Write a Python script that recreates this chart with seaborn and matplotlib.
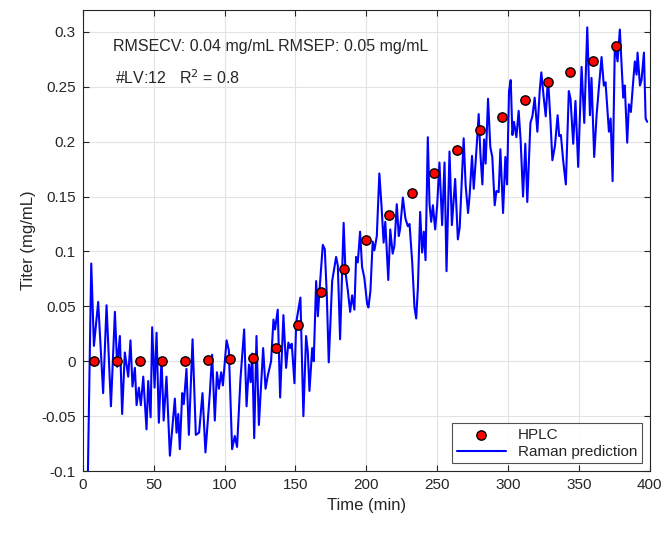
import numpy as np
import pandas as pd
import matplotlib
matplotlib.use("Agg")
from matplotlib import pyplot as plt
import seaborn as sns

# HPLC reference samples
hplc_time = [8, 24, 40, 56, 72, 88, 104, 120, 136, 152, 168, 184,
             200, 216, 232, 248, 264, 280, 296, 312, 328, 344, 360, 376]
hplc_titer = [0.0, 0.0, 0.0, 0.0, 0.0, 0.001, 0.002, 0.003, 0.0125, 0.033, 0.063, 0.084,
              0.110, 0.133, 0.153, 0.171, 0.192, 0.211, 0.222, 0.238, 0.254, 0.263, 0.273, 0.287]

# Raman prediction
raman_time = [
    3.5, 5.9, 7.8, 10.8, 14.3, 16.7, 19.8, 22.6, 24.2, 26.1, 27.7, 29.6, 32.0, 33.6,
    35.0, 36.7, 37.9, 39.5, 40.9, 42.6, 44.9, 46.1, 47.8, 48.9, 50.6, 52.0, 53.6, 55.5,
    57.0, 59.0, 61.4, 64.9, 66.1, 67.3, 68.4, 70.1, 71.2, 73.1, 74.8, 77.4, 79.7, 82.0,
    84.4, 86.5, 89.6, 91.2, 93.1, 94.6, 96.0, 97.6, 98.8, 101.4, 103.0, 105.3, 107.2,
    108.8, 111.2, 113.8, 115.5, 117.2, 118.4, 119.5, 120.9, 122.5, 124.2, 127.2, 128.9,
    130.5, 132.8, 134.5, 135.6, 137.5, 139.2, 141.5, 143.4, 145.0, 146.2, 147.4, 149.3,
    150.5, 153.5, 155.6, 157.5, 158.7, 159.9, 161.8, 162.9, 164.6, 165.8, 167.0, 169.3,
    170.7, 172.1, 173.5, 175.9, 178.7, 179.9, 181.5, 184.0, 185.3, 187.0, 188.6, 190.0,
    191.6, 192.8, 194.0, 195.6, 197.0, 198.6, 200.6, 201.5, 202.9, 204.5, 205.7, 207.4,
    209.2, 210.8, 212.2, 213.4, 215.5, 216.9, 218.6, 219.8, 221.5, 222.9, 223.8, 225.8,
    227.6, 229.3, 230.5, 232.4, 234.0, 235.2, 236.4, 238.0, 239.4, 240.6, 241.8, 243.4,
    244.6, 245.8, 247.0, 248.6, 250.0, 251.6, 253.5, 255.2, 256.6, 258.7, 260.4, 262.7,
    264.6, 265.9, 267.1, 268.7, 270.1, 271.8, 272.9, 274.6, 275.8, 276.9, 278.4, 279.3,
    280.5, 281.9, 283.1, 284.2, 285.9, 287.5, 288.9, 290.6, 291.8, 293.4, 294.6, 296.5,
    298.1, 299.3, 300.7, 301.9, 303.1, 304.2, 305.9, 307.5, 308.9, 310.6, 312.2, 313.6,
    315.8, 317.2, 318.8, 320.7, 322.4, 323.5, 325.2, 326.6, 328.2, 329.9, 331.3, 333.1,
    335.0, 336.1, 337.3, 338.9, 340.8, 342.9, 344.1, 346.0, 347.6, 349.5, 351.9, 353.8,
    355.9, 357.8, 358.9, 360.8, 362.5, 364.1, 366.0, 367.6, 368.8, 370.0, 371.2, 372.4,
    373.8, 375.4, 377.3, 378.9, 380.1, 381.3, 382.4, 384.1, 385.3, 386.7, 388.4, 389.5,
    390.7, 391.4, 393.1, 394.2, 395.9, 397.1, 398.2]
raman_titer = [
    -0.105, 0.089, 0.014, 0.054, -0.029, 0.051, -0.041, 0.045, -0.005, 0.023, -0.048, 0.008,
    -0.014, 0.019, -0.023, -0.006, -0.040, -0.024, -0.040, -0.014, -0.062, -0.018, -0.051,
    0.031, -0.024, 0.026, -0.056, 0.002, -0.054, -0.014, -0.086, -0.034, -0.065, -0.048,
    -0.080, -0.029, -0.039, -0.007, -0.067, 0.020, -0.067, -0.065, -0.029, -0.083, -0.029,
    0.006, -0.054, -0.010, -0.025, -0.010, -0.022, 0.019, 0.010, -0.080, -0.068, -0.078,
    -0.016, 0.029, -0.041, -0.003, -0.019, 0.007, -0.070, 0.023, -0.058, 0.012, -0.025,
    -0.013, 0.000, 0.038, 0.029, 0.047, -0.033, 0.042, -0.006, 0.017, 0.012, 0.016, -0.020,
    0.035, 0.058, -0.050, 0.023, 0.009, -0.027, 0.012, 0.000, 0.073, 0.041, 0.065, 0.106,
    0.102, 0.061, -0.001, 0.073, 0.095, 0.087, 0.020, 0.126, 0.081, 0.064, 0.045, 0.060,
    0.047, 0.095, 0.090, 0.118, 0.086, 0.076, 0.052, 0.049, 0.064, 0.109, 0.101, 0.114,
    0.171, 0.140, 0.108, 0.127, 0.074, 0.120, 0.098, 0.105, 0.143, 0.114, 0.120, 0.149,
    0.130, 0.123, 0.125, 0.090, 0.049, 0.039, 0.067, 0.136, 0.099, 0.118, 0.092, 0.204,
    0.143, 0.127, 0.142, 0.120, 0.142, 0.181, 0.124, 0.181, 0.082, 0.191, 0.124, 0.166,
    0.111, 0.122, 0.157, 0.203, 0.160, 0.135, 0.151, 0.187, 0.157, 0.177, 0.206, 0.225,
    0.189, 0.161, 0.202, 0.180, 0.239, 0.195, 0.186, 0.142, 0.155, 0.154, 0.193, 0.135,
    0.186, 0.161, 0.246, 0.256, 0.206, 0.218, 0.204, 0.228, 0.201, 0.150, 0.198, 0.145,
    0.217, 0.223, 0.240, 0.209, 0.247, 0.263, 0.240, 0.223, 0.258, 0.220, 0.183, 0.196,
    0.224, 0.205, 0.206, 0.183, 0.161, 0.246, 0.239, 0.198, 0.237, 0.177, 0.268, 0.217,
    0.304, 0.224, 0.258, 0.186, 0.224, 0.249, 0.277, 0.251, 0.254, 0.231, 0.209, 0.221,
    0.164, 0.290, 0.273, 0.302, 0.271, 0.240, 0.251, 0.199, 0.234, 0.227, 0.256, 0.273,
    0.261, 0.281, 0.251, 0.256, 0.281, 0.221, 0.218]

x_ticks = [0, 50, 100, 150, 200, 250, 300, 350, 400]
y_ticks = [-0.1, -0.05, 0, 0.05, 0.1, 0.15, 0.2, 0.25, 0.3]
y_tick_labels = ["-0.1", "-0.05", "0", "0.05", "0.1", "0.15", "0.2", "0.25", "0.3"]

raman = pd.DataFrame({"Time": raman_time, "Titer": raman_titer})
hplc = pd.DataFrame({"Time": hplc_time, "Titer": hplc_titer})

sns.set_style("whitegrid")
plt.rcParams["font.family"] = ["Liberation Sans", "DejaVu Sans"]

fig = plt.figure(figsize=(6.63, 5.44), dpi=100)
ax = fig.add_axes([0.125, 0.134, 0.855, 0.848])

sns.lineplot(data=raman, x="Time", y="Titer", color="#0000ff", linewidth=1.5,
             estimator=None, sort=False, ax=ax, label="Raman prediction", zorder=2)
sns.scatterplot(data=hplc, x="Time", y="Titer", color="#ff0000", edgecolor="black",
                linewidth=1.0, s=45, ax=ax, label="HPLC", zorder=3)

ax.set_xlim(0, 400)
ax.set_ylim(-0.1, 0.32)
ax.set_xticks(x_ticks)
ax.set_yticks(y_ticks)
ax.set_yticklabels(y_tick_labels)
ax.grid(True, color="#e3e3e3", linewidth=0.8)
ax.tick_params(direction="in", length=4, width=0.8, colors="#262626", labelsize=11,
               top=True, right=True, bottom=True, left=True, pad=5)
for s in ax.spines.values():
    s.set_color("#262626")
    s.set_linewidth(0.8)

ax.set_xlabel("Time (min)", fontsize=12, color="#262626")
ax.set_ylabel("Titer (mg/mL)", fontsize=12, color="#262626")

ax.text(21, 0.287, "RMSECV: 0.04 mg/mL RMSEP: 0.05 mg/mL", fontsize=11.5,
        va="center", ha="left")
ax.text(23, 0.258, "#LV:12   R$^2$ = 0.8", fontsize=11.5, va="center", ha="left")

h, l = ax.get_legend_handles_labels()
order = [l.index("HPLC"), l.index("Raman prediction")]
leg = ax.legend([h[i] for i in order], [l[i] for i in order], loc="lower right",
                fontsize=11, frameon=True, fancybox=False, edgecolor="#262626",
                borderaxespad=0.5, handlelength=3.2, borderpad=0.3, labelspacing=0.2)
leg.get_frame().set_linewidth(0.8)

fig.savefig("out.png", dpi=100, facecolor="white")
